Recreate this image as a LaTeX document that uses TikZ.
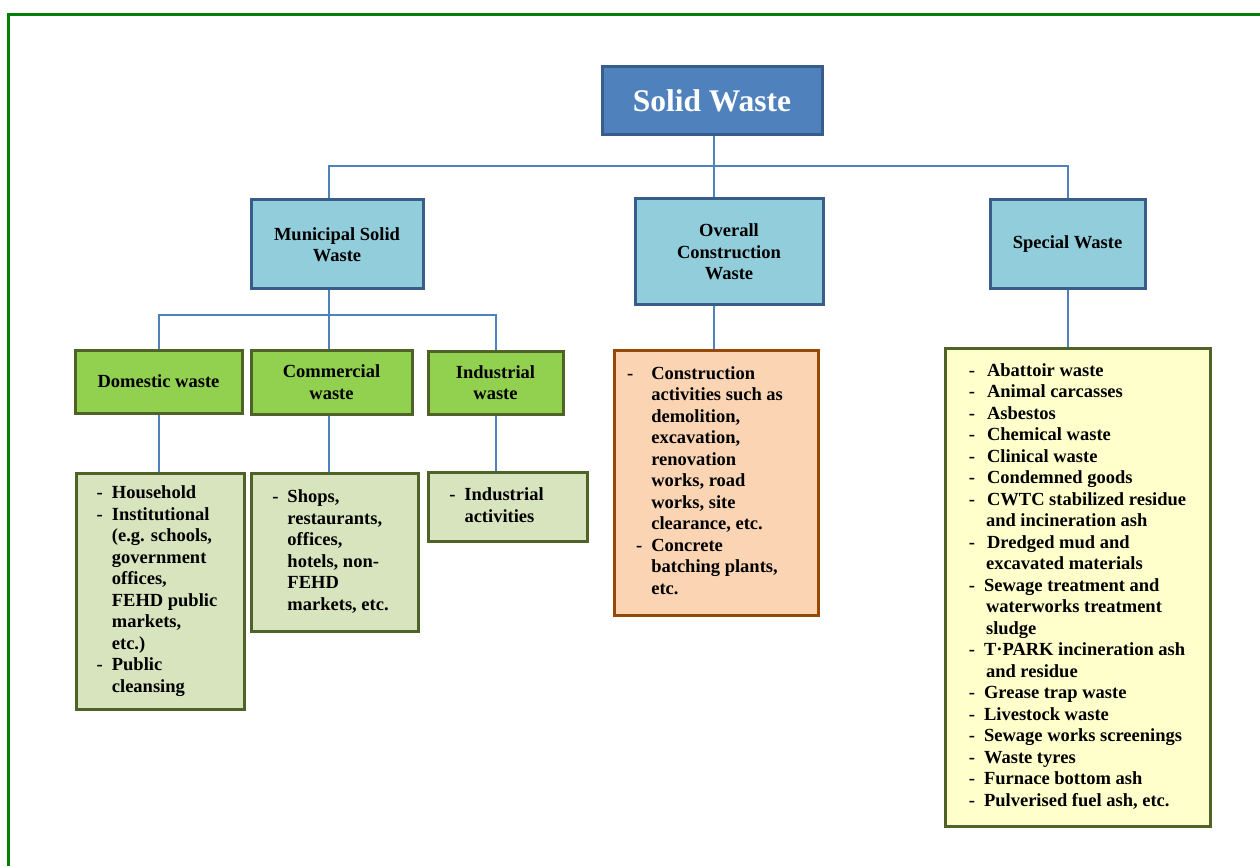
\documentclass[tikz,border=0pt]{standalone}
\usepackage{fontspec}
\setmainfont{Liberation Serif}
\usetikzlibrary{positioning}
\definecolor{mframe}{rgb}{0.0, 0.5, 0.0}
\definecolor{mblue}{HTML}{4F81BD}
\definecolor{mnavy}{HTML}{385D8A}
\definecolor{mcyan}{HTML}{92CDDC}
\definecolor{mgreen}{HTML}{92D050}
\definecolor{mleaf}{HTML}{4F6228}
\definecolor{msage}{HTML}{D7E4BD}
\definecolor{mpeach}{HTML}{FBD4B4}
\definecolor{mrust}{HTML}{984806}
\definecolor{mcream}{HTML}{FFFFCC}
\tikzset{box/.style = {draw, line width = 3, inner sep = 0, align = center,
    font = \bfseries\fontsize{18.5}{21.5}\selectfont},
  title/.style = {box, draw = mnavy, fill = mblue, text = white,
    font = \bfseries\fontsize{31.5}{36}\selectfont},
  head/.style = {box, draw = mnavy, fill = mcyan},
  kind/.style = {box, draw = mleaf, fill = mgreen},
  items/.style = {box, draw = mleaf, fill = msage},
  link/.style = {mblue, line width = 2}}
\newcommand{\wlist}[1]{\begin{tabular}{@{}l@{\hspace{9pt}}l@{}}#1\end{tabular}}

\begin{document}
\begin{tikzpicture}[x=1pt, y=-1pt]
          \clip (0, 0) rectangle (1260, 866);
          \draw [mframe, line width = 3] (8.5, 14.5) rectangle (1300, 900);

          \node [title, minimum width = 220, minimum height = 68] (sw) at (712, 101) {Solid Waste};

          \node [head, minimum width = 172, minimum height = 89] (msw) at (337, 244.5) {Municipal Solid\\Waste};
          \node [head, minimum width = 188, minimum height = 106] (ocw) at (729, 252) {Overall\\Construction\\Waste};
          \node [head, minimum width = 155, minimum height = 89] (spw) at (1067.5, 244.5) {Special Waste};

          \node [kind, minimum width = 167, minimum height = 63] (dom) at (158.5, 381.5) {Domestic waste};
          \node [kind, minimum width = 161, minimum height = 64] (com) at (331.5, 382) {Commercial\\waste};
          \node [kind, minimum width = 135, minimum height = 63] (ind) at (495.5, 382.5) {Industrial\\waste};

          \node [items, minimum width = 168, minimum height = 236] (domlist) at (160, 591) {\wlist{
            - & Household\\
            - & Institutional\\
              & (e.g. schools,\\
              & government\\
              & offices,\\
              & FEHD public\\
              & markets,\\
              & etc.)\\
            - & Public\\
              & cleansing}\hspace{6pt}};
          \node [items, minimum width = 167, minimum height = 158] (comlist) at (334.5, 552) {\wlist{
            - & Shops,\\
              & restaurants,\\
              & offices,\\
              & hotels, non-\\
              & FEHD\\
              & markets, etc.}\hspace{8pt}};
          \node [items, minimum width = 159, minimum height = 69] (indlist) at (507.5, 507) {\wlist{
            - & Industrial\\
              & activities}\hspace{22pt}};
          \node [box, draw = mrust, fill = mpeach, minimum width = 204, minimum height = 265] (ocwlist) at (716, 482.5) {\wlist{
            - & Construction\\
              & activities such as\\
              & demolition,\\
              & excavation,\\
              & renovation\\
              & works, road\\
              & works, site\\
              & clearance, etc.\\
            \hspace{9pt}- & Concrete\\
              & batching plants,\\
              & etc.}\hspace{22pt}};
          \node [box, draw = mleaf, fill = mcream, minimum width = 265, minimum height = 478] (spwlist) at (1077.5, 587) {\wlist{
            - & \hspace{3pt}Abattoir waste\\
            - & \hspace{3pt}Animal carcasses\\
            - & \hspace{3pt}Asbestos\\
            - & \hspace{3pt}Chemical waste\\
            - & \hspace{3pt}Clinical waste\\
            - & \hspace{3pt}Condemned goods\\
            - & \hspace{3pt}CWTC stabilized residue\\
              & \hspace{2pt}and incineration ash\\
            - & \hspace{3pt}Dredged mud and\\
              & \hspace{2pt}excavated materials\\
            - & Sewage treatment and\\
              & \hspace{2pt}waterworks treatment\\
              & \hspace{2pt}sludge\\
            - & T·PARK incineration ash\\
              & \hspace{2pt}and residue\\
            - & Grease trap waste\\
            - & Livestock waste\\
            - & Sewage works screenings\\
            - & Waste tyres\\
            - & Furnace bottom ash\\
            - & Pulverised fuel ash, etc.}};

          \coordinate (bus) at (714, 166);
          \coordinate (subbus) at (329, 315);
          \draw [link] (sw.south -| bus) |- (subbus |- bus) -- (msw.north -| subbus);
          \draw [link] (sw.south -| bus) |- (spw.north |- bus) -- (spw.north);
          \draw [link] (sw.south -| bus) -- (ocw.north -| bus);

          \draw [link] (msw.south -| subbus) |- (dom.north |- subbus) -- (dom.north);
          \draw [link] (msw.south -| subbus) |- (ind.north |- subbus) -- (ind.north);
          \draw [link] (msw.south -| subbus) -- (com.north -| subbus);

          \draw [link] (dom.south) -- (dom.south |- domlist.north);
          \draw [link] (com.south -| subbus) -- (comlist.north -| subbus);
          \draw [link] (ind.south) -- (ind.south |- indlist.north);
          \draw [link] (ocw.south -| bus) -- (ocwlist.north -| bus);
          \draw [link] (spw.south) -- (spw.south |- spwlist.north);
        \end{tikzpicture}
\end{document}
